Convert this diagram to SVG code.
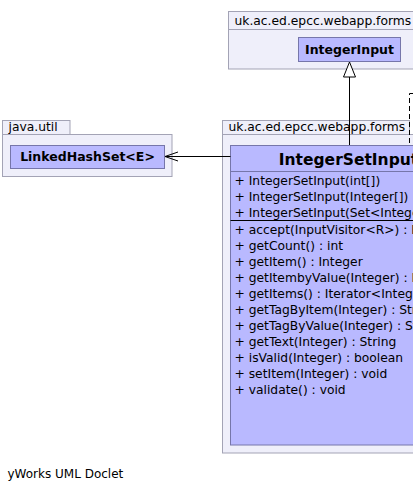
<svg xmlns="http://www.w3.org/2000/svg" width="413" height="491" viewBox="0 0 413 491">
<style>
.pkg{fill:#efeffa;stroke:#a3a3b5;stroke-width:1}
.cls{fill:#b9b9ff;stroke:#7676aa;stroke-width:1}
.t{font-family:"DejaVu Sans",sans-serif;font-size:12.3px;fill:#000}
.b{font-family:"DejaVu Sans",sans-serif;font-size:12.5px;font-weight:bold;fill:#000}
.title{font-family:"DejaVu Sans",sans-serif;font-size:15.5px;font-weight:bold;fill:#000}
.ln{fill:none;stroke:#000;stroke-width:1}
</style>
<rect x="0" y="0" width="413" height="491" fill="#fff"/>
<g id="pkg-top">
<rect class="pkg" x="228.5" y="11.5" width="200" height="18"/>
<rect class="pkg" x="228.5" y="29.5" width="200" height="39.5"/>
<text class="t" x="234.5" y="24.5">uk.ac.ed.epcc.webapp.forms</text>
</g>
<g id="pkg-java-util">
<rect class="pkg" x="2.5" y="120.5" width="67.5" height="14"/>
<rect class="pkg" x="2.5" y="134.5" width="169.5" height="42"/>
<text class="t" x="8.5" y="130.5">java.util</text>
</g>
<g id="pkg-forms">
<rect class="pkg" x="222.5" y="120.5" width="187" height="14"/>
<rect class="pkg" x="222.5" y="134.5" width="200" height="318.5"/>
<text class="t" x="228.5" y="130.5">uk.ac.ed.epcc.webapp.forms</text>
</g>
<g id="IntegerInput">
<rect class="cls" x="298.5" y="37.5" width="102" height="24"/>
<text class="b" x="349.5" y="54" text-anchor="middle">IntegerInput</text>
</g>
<g id="LinkedHashSet">
<rect class="cls" x="10.5" y="145.5" width="154" height="23"/>
<text class="b" x="87.5" y="161" text-anchor="middle">LinkedHashSet&lt;E&gt;</text>
</g>
<g id="IntegerSetInput">
<rect class="cls" x="230.5" y="145.5" width="237" height="299.5"/>
<line x1="230.5" y1="171.5" x2="467.5" y2="171.5" stroke="#7676aa"/>
<line x1="230.5" y1="220.5" x2="467.5" y2="220.5" stroke="#000"/>
<text class="title" x="348.5" y="165" text-anchor="middle">IntegerSetInput</text>
<text class="t" x="234.5" y="185">+ IntegerSetInput(int[])</text>
<text class="t" x="234.5" y="200.8">+ IntegerSetInput(Integer[])</text>
<text class="t" x="234.5" y="216.5">+ IntegerSetInput(Set&lt;Integer&gt;)</text>
<text class="t" x="234.5" y="233.5">+ accept(InputVisitor&lt;R&gt;) : R</text>
<text class="t" x="234.5" y="249.5">+ getCount() : int</text>
<text class="t" x="234.5" y="265.5">+ getItem() : Integer</text>
<text class="t" x="234.5" y="281.5">+ getItembyValue(Integer) : Integer</text>
<text class="t" x="234.5" y="297.5">+ getItems() : Iterator&lt;Integer&gt;</text>
<text class="t" x="234.5" y="313.5">+ getTagByItem(Integer) : String</text>
<text class="t" x="234.5" y="329.5">+ getTagByValue(Integer) : String</text>
<text class="t" x="234.5" y="345.5">+ getText(Integer) : String</text>
<text class="t" x="234.5" y="361.5">+ isValid(Integer) : boolean</text>
<text class="t" x="234.5" y="377.5">+ setItem(Integer) : void</text>
<text class="t" x="234.5" y="393.5">+ validate() : void</text>
</g>
<g id="connectors">
<line class="ln" x1="349.5" y1="77" x2="349.5" y2="145"/>
<polygon points="349.5,62 343.5,77 355.5,77" fill="#fff" stroke="#000" stroke-width="1"/>
<line class="ln" x1="165" y1="156.5" x2="230.5" y2="156.5"/>
<polyline class="ln" points="178,152 165,156.5 178,161"/>
<path class="ln" d="M413 93.5 H409.5 V145" stroke-dasharray="5,3"/>
</g>
<text class="t" x="7.5" y="477.5" style="font-size:12px">yWorks UML Doclet</text>
</svg>
